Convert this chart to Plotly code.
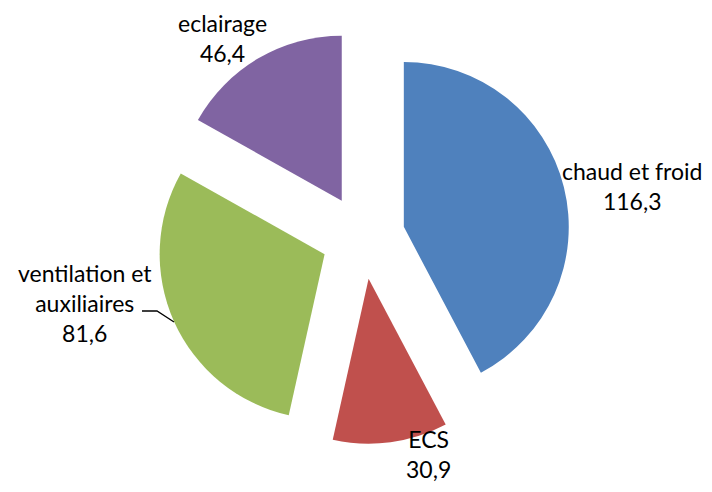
import plotly.graph_objects as go

labels = ["chaud et froid", "ECS", "ventilation et<br>auxiliaires", "eclairage"]
values = [116.3, 30.9, 81.6, 46.4]
colors = ["#4F81BD", "#C0504D", "#9BBB59", "#8064A2"]
pulls = [0.255, 0.255, 0.255, 0.255]
# label anchors (px in the page): x centre, y, vertical anchor
label_pos = [(632, 186, "middle"), (428, 484, "bottom"), (85, 303, "middle"), (222, 8, "top")]

# the page body has an 8px margin: size the figure to fit inside it
OFF = 8
W, H = 696, 476
L, R, T, B = 148, 134, 22, 40


def to_paper(px, py):
    return (px - OFF - L) / (W - L - R), 1 - (py - OFF - T) / (H - T - B)


fig = go.Figure(go.Pie(
    labels=labels, values=values, sort=False, direction="clockwise",
    rotation=0, pull=pulls,
    marker=dict(colors=colors, line=dict(width=0)),
    textinfo="none", textposition="none", showlegend=False, hoverinfo="label+value",
))

for lab, val, (px, py, ya) in zip(labels, values, label_pos):
    x, y = to_paper(px, py)
    fig.add_annotation(
        x=x, y=y, xref="paper", yref="paper", showarrow=False,
        text=f"{lab}<br>{val:.1f}".replace(".", ","), align="center",
        xanchor="center", yanchor=ya, borderpad=0,
        font=dict(family="Lato", size=23, color="black"))

# leader line for the ventilation label
x0, y0 = to_paper(142, 311)
x1, y1 = to_paper(157, 311)
x2, y2 = to_paper(174, 322)
fig.add_shape(type="path", xref="paper", yref="paper",
              path=f"M {x0} {y0} L {x1} {y1} L {x2} {y2}",
              line=dict(color="black", width=1.3))

fig.update_layout(
    width=W, height=H, separators=", ",
    margin=dict(l=L, r=R, t=T, b=B),
    paper_bgcolor="white", plot_bgcolor="white",
)
fig.write_html("out.html")
